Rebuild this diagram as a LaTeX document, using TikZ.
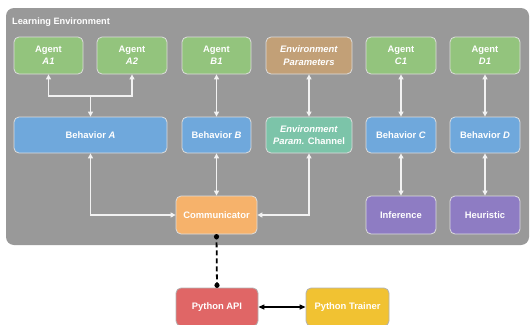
\documentclass[tikz,border=0pt]{standalone}
\usepackage{fontspec}
\setmainfont{Liberation Sans}
\usetikzlibrary{arrows.meta}
\definecolor{bggray}{HTML}{999999}
\definecolor{agentgreen}{HTML}{93C47D}
\definecolor{behblue}{HTML}{6FA8DC}
\definecolor{envtan}{HTML}{C2A077}
\definecolor{envteal}{HTML}{7CC4A9}
\definecolor{purp}{HTML}{8E7CC3}
\definecolor{orng}{HTML}{F6B26B}
\definecolor{redbox}{HTML}{E06666}
\definecolor{yel}{HTML}{F1C232}
\definecolor{linec}{HTML}{F2F2F2}
\definecolor{bord}{HTML}{DDDDDD}
\tikzset{
  box/.style={draw=bord, line width=0.8pt, rounded corners=5pt, text=white,
    font=\fontsize{9.4}{12.5}\selectfont\bfseries, align=center, inner sep=0pt},
  pybox/.style={box, draw=black!30},
  dbl/.style={draw=linec, line width=1.1pt, {Triangle[length=5pt,width=5pt]}-{Triangle[length=5pt,width=5pt]}},
  sgl/.style={draw=linec, line width=1.1pt, -{Triangle[length=5pt,width=5pt]}},
}
\begin{document}
\begin{tikzpicture}[x=1pt,y=-1pt]
\useasboundingbox (0,0) rectangle (530,324);
\fill[bggray, rounded corners=8pt] (6,8) rectangle (529,245);
\node[anchor=base west, text=white, font=\fontsize{9.2}{11}\selectfont\bfseries, inner sep=0pt] (title) at (12,24.5) {Learning Environment};
% row 1
\node[box, fill=agentgreen, minimum width=69pt, minimum height=37pt] (A1) at (48.5,55.5) {Agent\\\textit{A1}};
\node[box, fill=agentgreen, minimum width=70pt, minimum height=37pt] (A2) at (132,55.5) {Agent\\\textit{A2}};
\node[box, fill=agentgreen, minimum width=69pt, minimum height=37pt] (B1) at (216.5,55.5) {Agent\\\textit{B1}};
\node[box, fill=envtan, minimum width=86pt, minimum height=37pt] (EP) at (309,55.5) {\textit{Environment}\\\textit{Parameters}};
\node[box, fill=agentgreen, minimum width=70pt, minimum height=37pt] (C1) at (401,55.5) {Agent\\\textit{C1}};
\node[box, fill=agentgreen, minimum width=70pt, minimum height=37pt] (D1) at (485,55.5) {Agent\\\textit{D1}};
% row 2
\node[box, fill=behblue, minimum width=153pt, minimum height=36pt] (BA) at (90.5,135) {Behavior \textit{A}};
\node[box, fill=behblue, minimum width=69pt, minimum height=36pt] (BB) at (216.5,135) {Behavior \textit{B}};
\node[box, fill=envteal, minimum width=86pt, minimum height=36pt] (EPC) at (309,135) {\textit{Environment}\\\textit{Param.} Channel};
\node[box, fill=behblue, minimum width=70pt, minimum height=36pt] (BC) at (401,135) {Behavior \textit{C}};
\node[box, fill=behblue, minimum width=70pt, minimum height=36pt] (BD) at (485,135) {Behavior \textit{D}};
% row 3
\node[box, fill=orng, minimum width=81pt, minimum height=38pt] (CM) at (216.5,215) {Communicator};
\node[box, fill=purp, minimum width=70pt, minimum height=38pt] (INF) at (401,215) {Inference};
\node[box, fill=purp, minimum width=70pt, minimum height=38pt] (HEU) at (485,215) {Heuristic};
% python
\node[pybox, fill=redbox, minimum width=82pt, minimum height=38pt] (API) at (217,307) {Python API};
\node[pybox, fill=yel, minimum width=83pt, minimum height=38pt] (TR) at (347.5,307) {Python Trainer};
% connectors
\coordinate (jA) at (90.5,96);
\draw[sgl] (jA) -| (A1.south);
\draw[sgl] (jA) -| (A2.south);
\draw[sgl] (jA) -- (BA.north);
\draw[dbl] (B1) -- (BB);
\draw[dbl] (EP) -- (EPC);
\draw[dbl] (C1) -- (BC);
\draw[dbl] (D1) -- (BD);
\draw[dbl] (BC) -- (INF);
\draw[dbl] (BD) -- (HEU);
\draw[dbl] (BA.south) |- (CM.west);
\draw[dbl] (BB) -- (CM);
\draw[dbl] (EPC.south) |- (CM.east);
\draw[black, line width=1.8pt, dash pattern=on 5pt off 3pt] (CM.south) -- (API.north);
\fill[black] (CM.south) ++(0,2.3) circle (2.6pt);
\fill[black] (API.north) ++(0,-2.3) circle (2.6pt);
\draw[black, line width=1.2pt, {Triangle[length=6pt,width=5pt]}-{Triangle[length=6pt,width=5pt]}] (API.east) -- (TR.west);
\end{tikzpicture}
\end{document}
